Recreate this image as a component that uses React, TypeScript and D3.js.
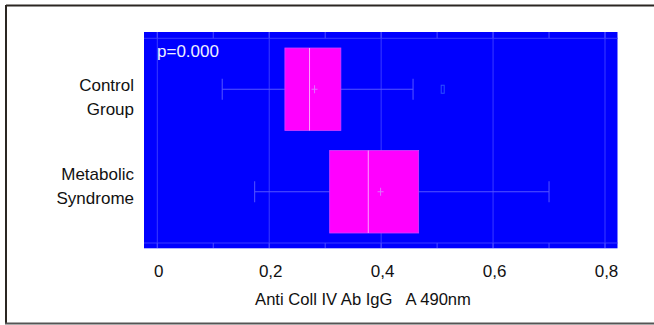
import React from "react";
import * as d3 from "d3";

const categories = ["Control Group", "Metabolic Syndrome"];
const labelLines = [["Control", "Group"], ["Metabolic", "Syndrome"]];
const whiskerLow = [0.116, 0.174];
const q1 = [0.228, 0.308];
const median = [0.272, 0.377];
const q3 = [0.328, 0.467];
const whiskerHigh = [0.457, 0.700];
const means = [0.281, 0.399];
const outliers = [[0.51], []];
const xTicks = [0, 0.2, 0.4, 0.6, 0.8];
const xTickLabels = ["0", "0,2", "0,4", "0,6", "0,8"];
const minorTicks = [0, 0.1, 0.2, 0.3, 0.4, 0.5, 0.6, 0.7, 0.8];
const pText = "p=0.000";
const xTitle = "Anti Coll IV Ab IgG   A 490nm";

export default function App() {
  const W = 654, H = 325;
  const x = d3.scaleLinear().domain([0, 0.8]).range([157.3, 605]);
  const y = d3.scaleBand<string>().domain(categories).range([38, 243]);
  const boxH = 82.5;
  const font = "'Liberation Sans', Arial, sans-serif";
  const labelBase = [[90.5, 114.5], [179.5, 203.5]];
  return (
    <svg width={W} height={H} style={{ position: "absolute", left: 0, top: 0 }} fontFamily={font}>
      <rect x={0} y={0} width={W} height={H} fill="#fff" />
      {/* outer frame */}
      <line x1={6} y1={5.5} x2={654} y2={5.5} stroke="#2b2622" strokeWidth={2} />
      <line x1={6} y1={5} x2={6} y2={324} stroke="#2b2622" strokeWidth={2} />
      <line x1={5} y1={323.5} x2={654} y2={323.5} stroke="#555" strokeWidth={2} />
      {/* plot background */}
      <rect x={144} y={32} width={473.5} height={216.3} fill="#0000ff" />
      {/* grid */}
      {xTicks.map((t) => (
        <line key={"g" + t} x1={x(t)} x2={x(t)} y1={32} y2={248} stroke="#3a3aff" strokeWidth={1} />
      ))}
      <line x1={144} x2={617.5} y1={38.3} y2={38.3} stroke="#3a3aff" strokeWidth={1} />
      <line x1={144} x2={617.5} y1={243} y2={243} stroke="#3a3aff" strokeWidth={1} />
      {minorTicks.map((t) => (
        <g key={"m" + t}>
          <line x1={x(t)} x2={x(t)} y1={32} y2={38.3} stroke="#4a4aff" strokeWidth={1} />
          <line x1={x(t)} x2={x(t)} y1={243} y2={248} stroke="#4a4aff" strokeWidth={1} />
        </g>
      ))}
      <text x={157} y={57} fill="#eef0ff" fontSize={17}>{pText}</text>
      {categories.map((c, i) => {
        const cy = (y(c) as number) + y.bandwidth() / 2;
        const top = cy - boxH / 2;
        return (
          <g key={c}>
            <line x1={x(whiskerLow[i])} x2={x(q1[i])} y1={cy} y2={cy} stroke="#5555ff" strokeWidth={1} />
            <line x1={x(q3[i])} x2={x(whiskerHigh[i])} y1={cy} y2={cy} stroke="#5555ff" strokeWidth={1} />
            <line x1={x(whiskerLow[i])} x2={x(whiskerLow[i])} y1={cy - 10.5} y2={cy + 10.5} stroke="#5555ff" strokeWidth={1} />
            <line x1={x(whiskerHigh[i])} x2={x(whiskerHigh[i])} y1={cy - 10.5} y2={cy + 10.5} stroke="#5555ff" strokeWidth={1} />
            <rect x={x(q1[i])} y={top} width={x(q3[i]) - x(q1[i])} height={boxH} fill="#ff00ff" stroke="#d040ff" strokeWidth={0.8} />
            <line x1={x(median[i])} x2={x(median[i])} y1={top} y2={top + boxH} stroke="#ffa0ff" strokeWidth={1} />
            <line x1={x(means[i]) - 3} x2={x(means[i]) + 3} y1={cy} y2={cy} stroke="#e070ff" strokeWidth={1} />
            <line x1={x(means[i])} x2={x(means[i])} y1={cy - 4} y2={cy + 4} stroke="#e070ff" strokeWidth={1} />
            {outliers[i].map((o, k) => (
              <rect key={k} x={x(o) - 1.5} y={cy - 4} width={3} height={8} fill="none" stroke="#2a50ff" strokeWidth={1} />
            ))}
            {labelLines[i].map((ln, k) => (
              <text key={k} x={134} y={labelBase[i][k]} textAnchor="end" fontSize={17} fill="#111">{ln}</text>
            ))}
          </g>
        );
      })}
      {xTicks.map((t, i) => (
        <text key={"t" + t} x={x(t) + 1.5} y={277} textAnchor="middle" fontSize={17} fill="#111">{xTickLabels[i]}</text>
      ))}
      <text x={363} y={305} textAnchor="middle" fontSize={16.6} fill="#111" style={{ whiteSpace: "pre" }} xmlSpace="preserve">{xTitle}</text>
    </svg>
  );
}
